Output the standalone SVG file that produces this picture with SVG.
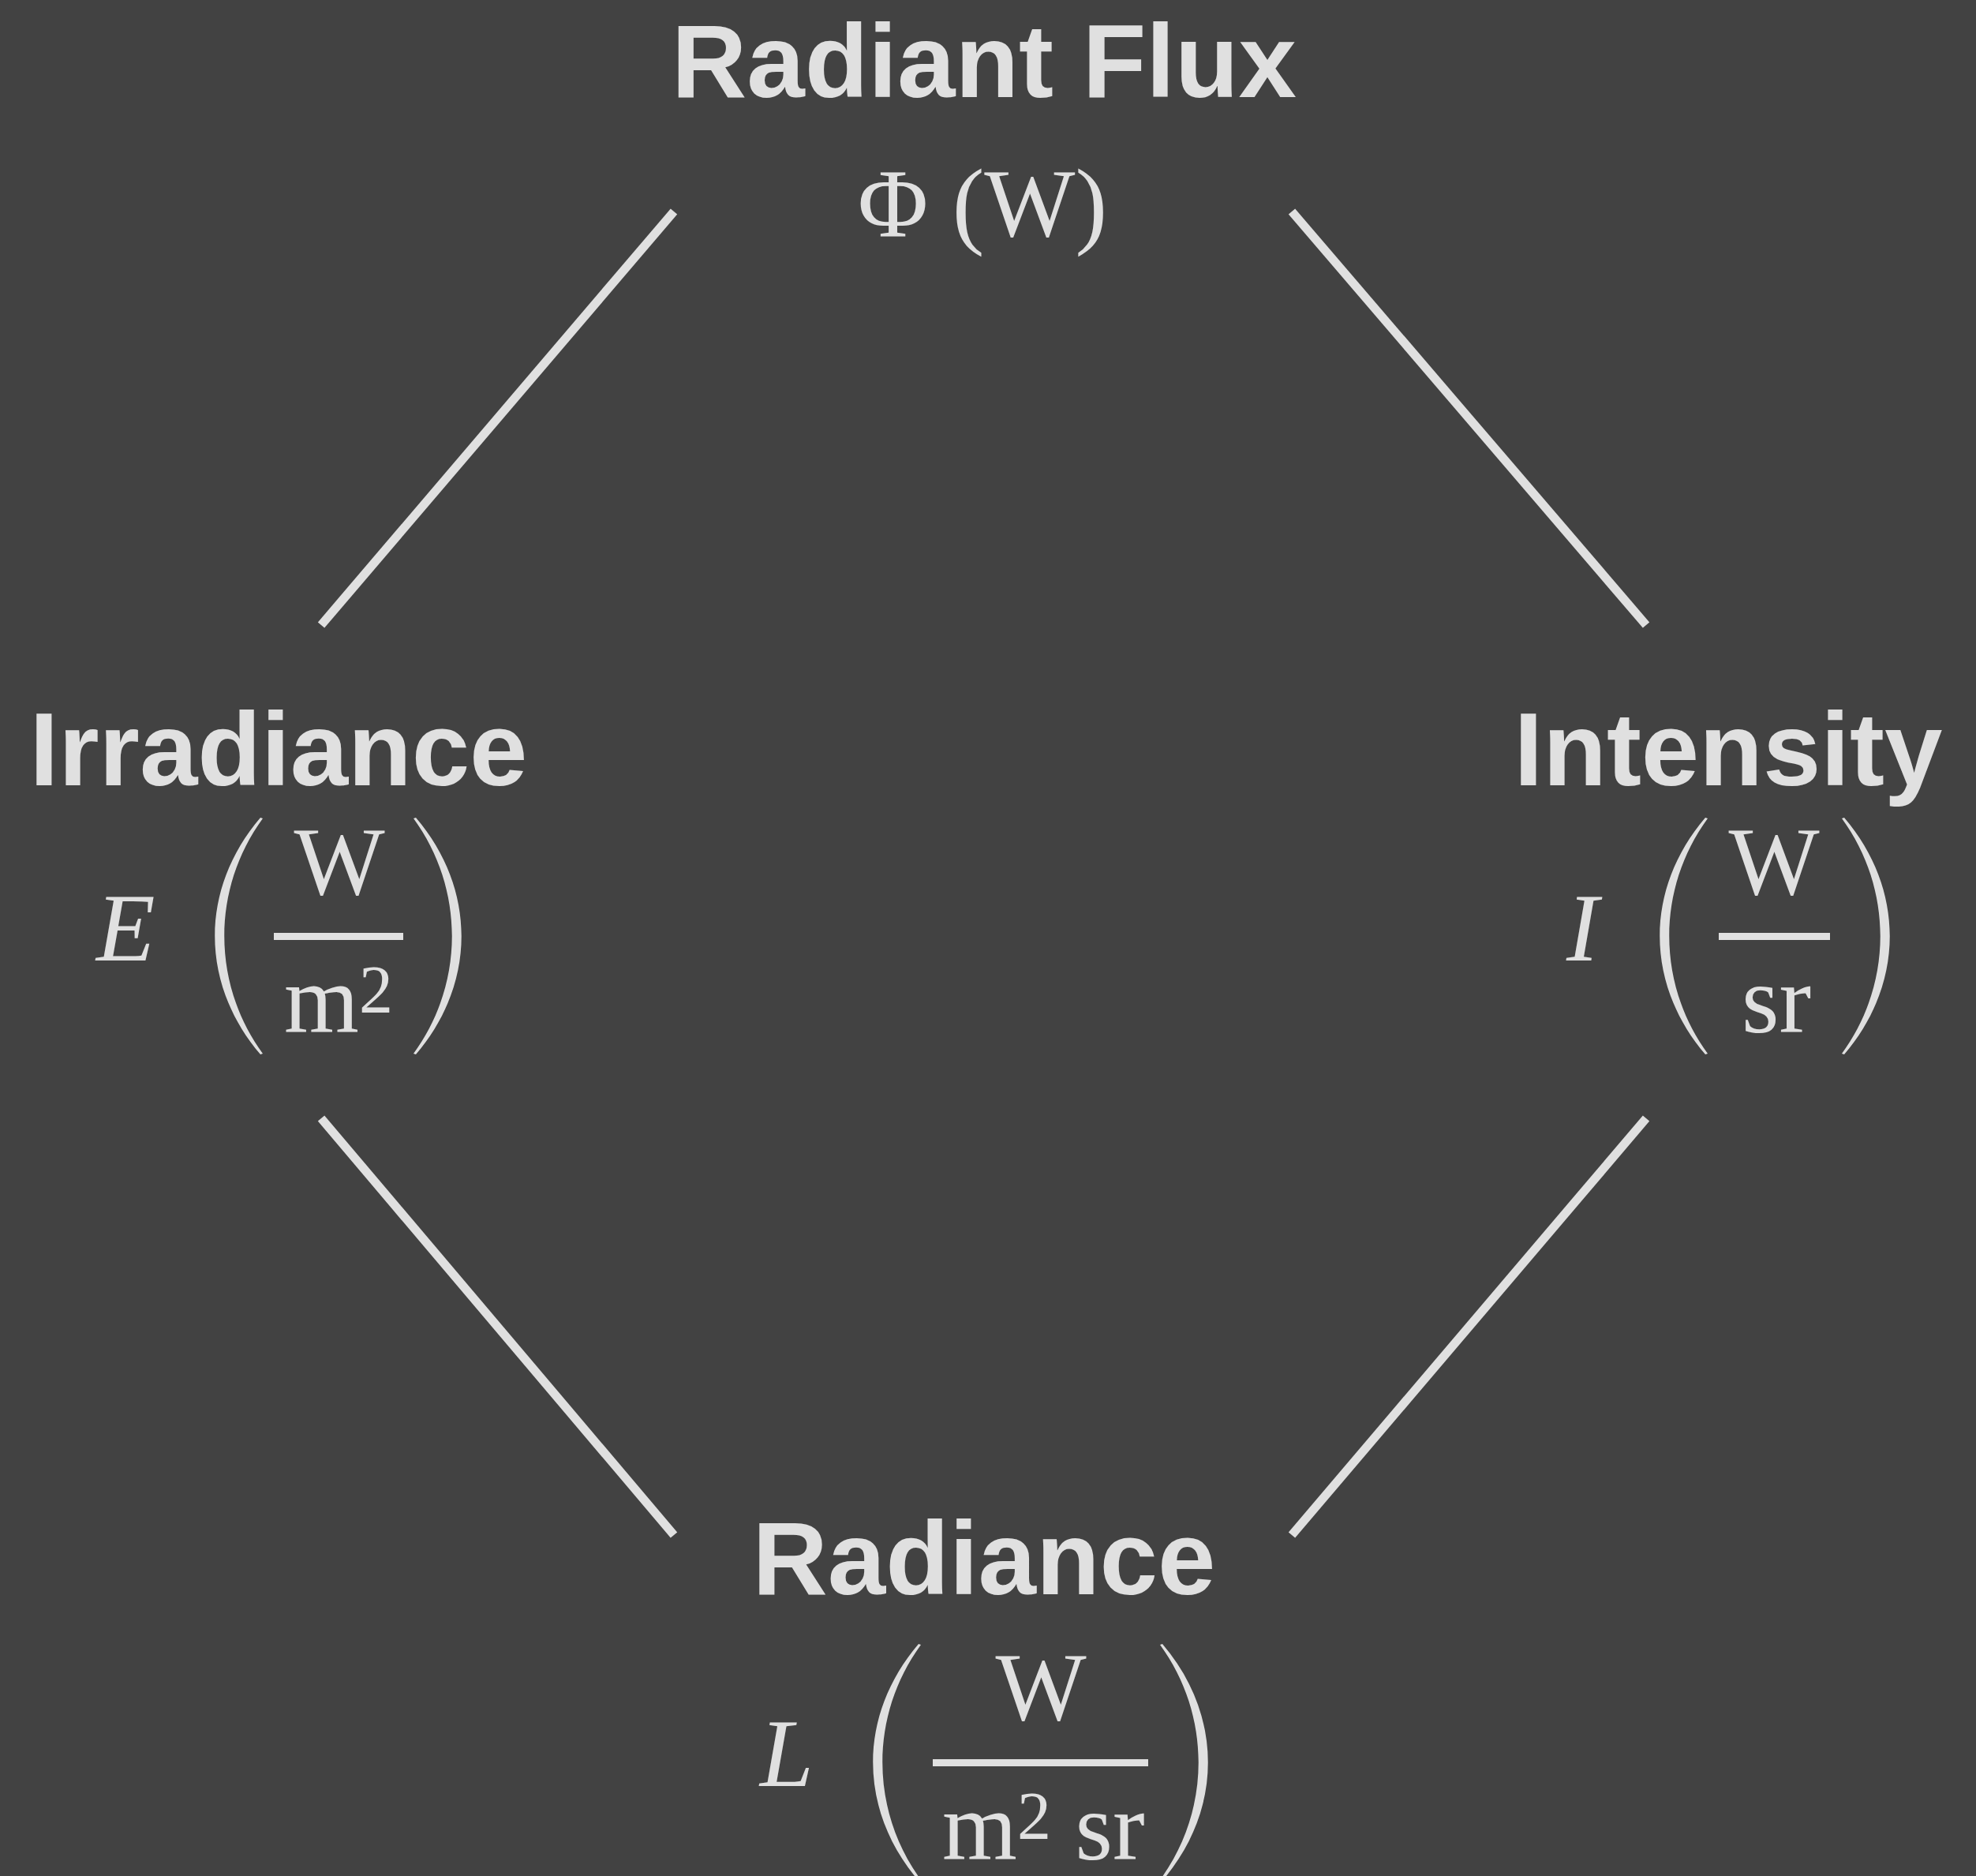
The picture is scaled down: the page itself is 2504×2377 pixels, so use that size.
<svg xmlns="http://www.w3.org/2000/svg" width="2504" height="2377" viewBox="0 0 2504 2377">
<style>
.bg{fill:#424242}
.title{font-family:"Liberation Sans",Arial,sans-serif;font-weight:bold;font-size:132px;fill:#e0e0e0;text-anchor:middle}
.m{font-family:"Liberation Serif","Times New Roman",serif;font-size:122px;fill:#e0e0e0}
.mi{font-family:"Liberation Serif","Times New Roman",serif;font-size:122px;font-style:italic;fill:#e0e0e0}
.c{text-anchor:middle}
.sup{font-size:86px}
.bar{fill:#e0e0e0}
.edge{stroke:#e0e0e0;stroke-width:11;fill:none}
</style>
<defs>
<path id="lp" d="M58,0 C-19,90 -19,210 58,300 L61,299 C-4,210 -4,90 61,1 Z" fill="#e0e0e0"/>
</defs>
<rect class="bg" x="0" y="0" width="2504" height="2377"/>
<g id="connectors">
<line class="edge" x1="854" y1="268" x2="407" y2="792"/>
<line class="edge" x1="1637" y1="268" x2="2086" y2="792"/>
<line class="edge" x1="407" y1="1417" x2="854" y2="1945"/>
<line class="edge" x1="2086" y1="1417" x2="1637" y2="1945"/>
</g>
<g id="radiant-flux">
<text class="title" x="1247" y="123">Radiant Flux</text>
<text class="m c" x="1245" y="299">Φ (W)</text>
</g>
<g id="irradiance">
<text class="title" x="353" y="995">Irradiance</text>
<text class="mi" x="122" y="1217">E</text>
<use href="#lp" transform="translate(272,1036)"/>
<text class="m c" x="430" y="1133">W</text>
<rect class="bar" x="347" y="1182" width="164" height="9"/>
<text class="m" x="360" y="1308">m<tspan class="sup" dy="-25">2</tspan></text>
<use href="#lp" transform="translate(585,1036) scale(-1,1)"/>
</g>
<g id="intensity">
<text class="title" x="2190" y="995">Intensity</text>
<text class="mi" x="1985" y="1217">I</text>
<use href="#lp" transform="translate(2103,1036)"/>
<text class="m c" x="2248" y="1133">W</text>
<rect class="bar" x="2178" y="1182" width="141" height="9"/>
<text class="m c" x="2251" y="1308">sr</text>
<use href="#lp" transform="translate(2395,1036) scale(-1,1)"/>
</g>
<g id="radiance">
<text class="title" x="1247" y="2020">Radiance</text>
<text class="mi" x="963" y="2263">L</text>
<use href="#lp" transform="translate(1106,2083)"/>
<text class="m c" x="1319" y="2179">W</text>
<rect class="bar" x="1182" y="2229" width="273" height="9"/>
<text class="m" x="1194" y="2356">m<tspan class="sup" dy="-26">2</tspan><tspan dy="26"> sr</tspan></text>
<use href="#lp" transform="translate(1531,2083) scale(-1,1)"/>
</g>
</svg>
